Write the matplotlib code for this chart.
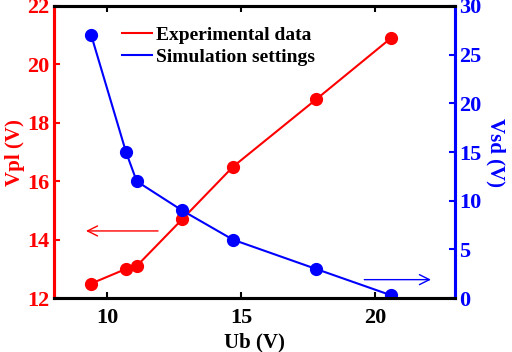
import matplotlib
matplotlib.use("Agg")
import matplotlib.pyplot as plt

plt.rcParams['font.family'] = ['Liberation Serif', 'DejaVu Serif']
plt.rcParams['font.weight'] = 'bold'

ub = [9.4, 10.7, 11.1, 12.8, 14.7, 17.8, 20.6]
vpl = [12.5, 13.0, 13.1, 14.7, 16.5, 18.8, 20.9]
vsd = [27, 15, 12, 9, 6, 3, 0.3]

RED = '#ff0000'
BLUE = '#0000ff'

fig = plt.figure(figsize=(5.12, 3.52), dpi=100)
ax = fig.add_axes([0.105, 0.153, 0.784, 0.830])
ax2 = ax.twinx()

l1, = ax.plot(ub, vpl, color=RED, lw=1.5, marker='o', ms=8.5, label='Experimental data')
l2, = ax2.plot(ub, vsd, color=BLUE, lw=1.5, marker='o', ms=8.5, label='Simulation settings')

ax.set_xlim(8, 23)
ax.set_ylim(12, 22)
ax2.set_ylim(0, 30)
ax.set_xticks([10, 15, 20])
ax.set_yticks([12, 14, 16, 18, 20, 22])
ax2.set_yticks([0, 5, 10, 15, 20, 25, 30])

for a in (ax, ax2):
    for s in a.spines.values():
        s.set_linewidth(2.2)
ax.spines['left'].set_color(RED)
ax2.spines['left'].set_color(RED)
ax.spines['right'].set_color(BLUE)
ax2.spines['right'].set_color(BLUE)

ax.tick_params(axis='x', direction='in', top=True, length=4, width=1.5, labelsize=16, pad=7)
ax.tick_params(axis='y', direction='in', length=4, width=1.5, colors=RED, labelsize=16, pad=3)
ax2.tick_params(axis='y', direction='in', length=4, width=1.5, colors=BLUE, labelsize=16, pad=3)

ax.set_xlabel('Ub (V)', fontsize=15, fontweight='bold', labelpad=3)
ax.set_ylabel('Vpl (V)', fontsize=15, fontweight='bold', color=RED, labelpad=2)
ax2.set_ylabel('Vsd (V)', fontsize=15, fontweight='bold', color=BLUE, rotation=270, labelpad=17)

ax.annotate('', xy=(9.1, 14.3), xytext=(12.0, 14.3),
            arrowprops=dict(arrowstyle='->', color=RED, lw=1.0, mutation_scale=18))
ax2.annotate('', xy=(22.2, 1.9), xytext=(19.5, 1.9),
             arrowprops=dict(arrowstyle='->', color=BLUE, lw=1.0, mutation_scale=18))

leg = ax.legend(handles=[l1, l2], loc='upper left', bbox_to_anchor=(0.127, 0.99),
                frameon=False, fontsize=14, handlelength=1.55, handletextpad=0.2,
                labelspacing=0.2, markerscale=0)
for h in leg.legend_handles:
    h.set_marker('')

fig.savefig('out.png', dpi=100)
